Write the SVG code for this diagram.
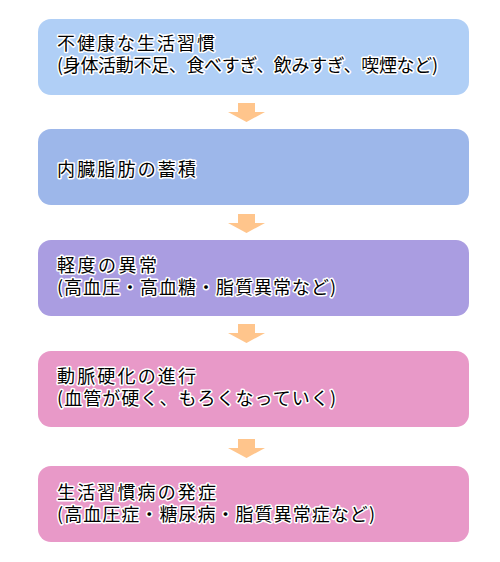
<svg xmlns="http://www.w3.org/2000/svg" width="500" height="562" viewBox="0 0 500 562">
<style>
.box{stroke:none}
.t{font-family:"Noto Sans CJK JP","Noto Sans CJK SC",sans-serif;font-size:18px;fill:#000;stroke:#fff;stroke-width:3px;stroke-linejoin:round;paint-order:stroke fill}
.arr{fill:#FFC58C}
</style>
<rect width="500" height="562" fill="#fff"/>
<g id="connectors">
<polygon class="arr" points="238,103 255,103 255,112 265,112 246.5,122 228,112 238,112"/>
<polygon class="arr" points="238,214 255,214 255,223 265,223 246.5,233 228,223 238,223"/>
<polygon class="arr" points="238,324 255,324 255,333 265,333 246.5,343 228,333 238,333"/>
<polygon class="arr" points="238,439 255,439 255,448 265,448 246.5,458 228,448 238,448"/>
</g>
<g id="node1">
<rect class="box" x="38" y="19" width="431" height="76" rx="13" fill="#B0CFF6"/>
<text class="t" x="57" y="50" textLength="158" lengthAdjust="spacing">不健康な生活習慣</text>
<text class="t" x="57" y="72" textLength="381" lengthAdjust="spacing">(身体活動不足、食べすぎ、飲みすぎ、喫煙など)</text>
</g>
<g id="node2">
<rect class="box" x="38" y="129" width="431" height="76" rx="13" fill="#9DB7EA"/>
<text class="t" x="57" y="176" textLength="139" lengthAdjust="spacing">内臓脂肪の蓄積</text>
</g>
<g id="node3">
<rect class="box" x="38" y="240" width="431" height="76" rx="13" fill="#AA9DE1"/>
<text class="t" x="57" y="272" textLength="100" lengthAdjust="spacing">軽度の異常</text>
<text class="t" x="57" y="294" textLength="279" lengthAdjust="spacing">(高血圧・高血糖・脂質異常など)</text>
</g>
<g id="node4">
<rect class="box" x="38" y="351" width="431" height="76" rx="13" fill="#E899C8"/>
<text class="t" x="57" y="383" textLength="139" lengthAdjust="spacing">動脈硬化の進行</text>
<text class="t" x="57" y="405" textLength="279" lengthAdjust="spacing">(血管が硬く、もろくなっていく)</text>
</g>
<g id="node5">
<rect class="box" x="38" y="466" width="431" height="76" rx="13" fill="#E899C8"/>
<text class="t" x="57" y="499" textLength="159" lengthAdjust="spacing">生活習慣病の発症</text>
<text class="t" x="57" y="521" textLength="318" lengthAdjust="spacing">(高血圧症・糖尿病・脂質異常症など)</text>
</g>
</svg>
